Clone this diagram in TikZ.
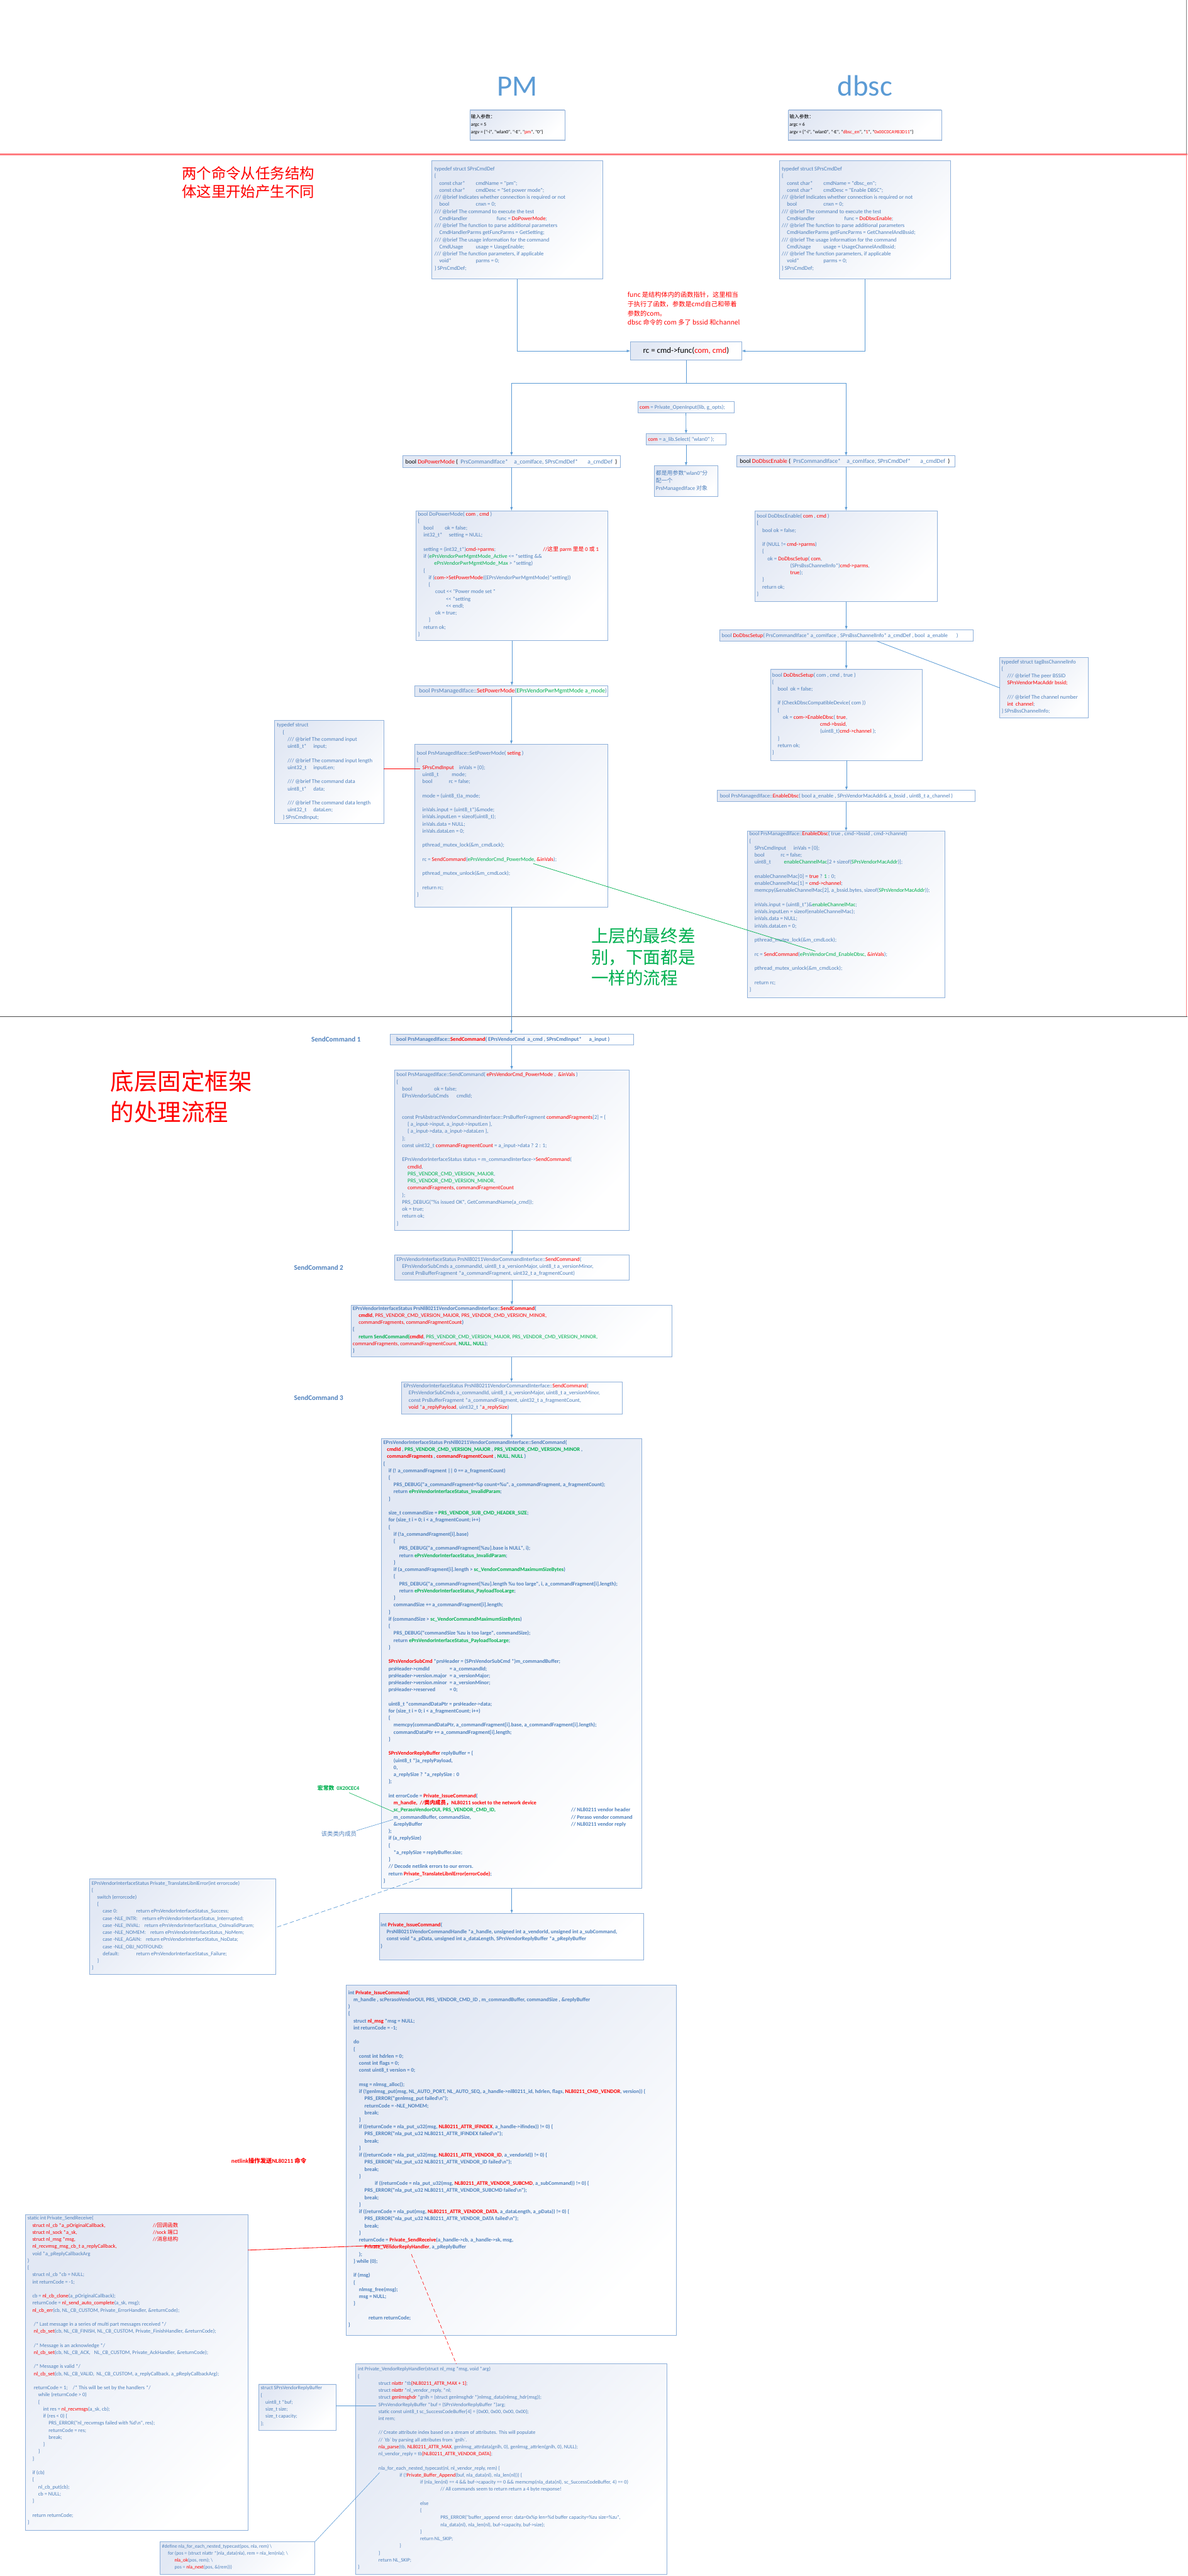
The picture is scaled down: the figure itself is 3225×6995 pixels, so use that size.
\documentclass[tikz,border=0pt]{standalone}
\usepackage{fontspec}
\setmainfont{Carlito}[Ligatures=TeXOff]
\newfontfamily\cjk{Noto Sans CJK SC}
\usetikzlibrary{arrows.meta}
\definecolor{cblue}{HTML}{4F81BD}
\definecolor{cred}{HTML}{FF0000}
\definecolor{cgreen}{HTML}{00B050}
\definecolor{lblue}{HTML}{5B9BD5}
\definecolor{bline}{HTML}{8EB0DA}
\definecolor{btop}{HTML}{E2E8F4}
\definecolor{sepred}{HTML}{FF7C80}
\definecolor{inbar}{HTML}{A7BFDE}
\newlength\pxl
\setlength\pxl{0.5pt}
\newcommand\hsp[1]{\hspace*{#1\pxl}}
\newcommand\cola[2]{\makebox[#1\pxl][l]{#2}}
\newcommand\rd[1]{\textcolor{cred}{#1}}
\newcommand\gr[1]{\textcolor{cgreen}{#1}}
\newcommand\zh[1]{{\cjk #1}}
\newcommand\codef{\fontsize{7.5}{9.6}\selectfont}
\newcommand\codeb{\fontsize{7.3}{9.6}\selectfont\bfseries}
\newcommand\hdf{\fontsize{8.2}{10}\selectfont}
\tikzset{
  box/.style={draw=bline, line width=0.8pt, top color=btop, bottom color=white, shading angle=45, inner sep=0pt, outer sep=0pt, rectangle},
  txt/.style={anchor=north west, inner sep=0pt, outer sep=0pt, align=left, text=cblue, font=\codef, execute at begin node=\strut},
  hd/.style={anchor=west, inner sep=0pt, outer sep=0pt, text=cblue, font=\hdf},
  arr/.style={draw=lblue, line width=0.7pt, -{Latex[length=5pt,width=3.6pt]}},
  ln/.style={draw=lblue, line width=0.7pt},
  big/.style={anchor=north west, inner sep=0pt, outer sep=0pt, align=left},
}
\newcommand\bx[6][]{\node[box,#1,minimum width={(#5-#3)*0.5pt},minimum height={(#6-#4)*0.5pt}] (#2) at ({(#3+#5)/2},{(#4+#6)/2}) {};}
\newcommand\tx[5][]{\node[txt,#1] (#2) at (#3,{#4-9.4}) {#5};}
\begin{document}
\begin{tikzpicture}[x=0.5pt,y=-0.5pt]
\useasboundingbox (0,0) rectangle (3225,6995);
\fill[white] (0,0) rectangle (3225,6995);
% ---------------- section lines
\draw[sepred, line width=2pt] (0,419) -- (3225,419);
\draw[black!50, line width=0.6pt] (3222,0) -- (3222,419);
\draw[sepred, line width=1pt] (3222,419) -- (3222,2760);
\draw[black!70, line width=0.6pt] (0,2760) -- (3225,2760);
% ---------------- titles
\node[anchor=base, inner sep=0pt, text=lblue, font=\fontsize{40}{40}\selectfont] (tPM) at (1405,260) {PM};
\node[anchor=base, inner sep=0pt, text=lblue, font=\fontsize{40}{40}\selectfont] (tDB) at (2349,260) {dbsc};
\bx{inPM}{1276}{299}{1534}{381}
\bx{inDB}{2141}{299}{2557}{381}
\draw[inbar, line width=2pt] (inPM.north west) -- (inPM.north east) (inPM.south west) -- (inPM.south east) (inDB.north west) -- (inDB.north east) (inDB.south west) -- (inDB.south east);
\tx[text=black, font=\fontsize{6.6}{10}\selectfont]{tinPM}{1279}{321}{\zh{输入参数：}\\argc = 5\\argv = \{"-i", "wlan0", "-E", "\rd{pm}", "0"\}}
\tx[text=black, font=\fontsize{6.6}{10}\selectfont]{tinDB}{2144}{321}{\zh{输入参数：}\\argc = 6\\argv = \{"-i", "wlan0", "-E", "\rd{dbsc\_en}", "\rd{1}", "\rd{0x00C0CA9B3D11}"\}}
\node[big, text=cred, font={\cjk\fontsize{20}{25.5}\selectfont}] (tDiff) at (494,451) {两个命令从任务结构\\体这里开始产生不同};
% ---------------- struct boxes
\bx{structPM}{1173}{437}{1637}{758}
\tx{tsPM}{1180}{463}{typedef struct SPrsCmdDef\\
\{\\
\hsp{13}\cola{99}{const char*}cmdName = "pm";\\
\hsp{13}\cola{99}{const char*}cmdDesc = "Set power mode";\\
/// @brief Indicates whether connection is required or not\\
\hsp{13}\cola{99}{bool}cnxn = 0;\\
/// @brief The command to execute the test\\
\hsp{13}\cola{156}{CmdHandler}func = \rd{DoPowerMode};\\
/// @brief The function to parse additional parameters\\
\hsp{13}CmdHandlerParms getFuncParms = GetSetting;\\
/// @brief The usage information for the command\\
\hsp{13}\cola{99}{CmdUsage}usage = UasgeEnable;\\
/// @brief The function parameters, if applicable\\
\hsp{13}\cola{99}{void*}parms = 0;\\
\} SPrsCmdDef;}
\bx{structDB}{2117}{437}{2582}{758}
\tx{tsDB}{2123}{463}{typedef struct SPrsCmdDef\\
\{\\
\hsp{14}\cola{99}{const char*}cmdName = "dbsc\_en";\\
\hsp{14}\cola{99}{const char*}cmdDesc = "Enable DBSC";\\
/// @brief Indicates whether connection is required or not\\
\hsp{14}\cola{99}{bool}cnxn = 0;\\
/// @brief The command to execute the test\\
\hsp{14}\cola{156}{CmdHandler}func = \rd{DoDbscEnable};\\
/// @brief The function to parse additional parameters\\
\hsp{14}CmdHandlerParms getFuncParms = GetChannelAndBssid;\\
/// @brief The usage information for the command\\
\hsp{14}\cola{99}{CmdUsage}usage = UsageChannelAndBssid;\\
/// @brief The function parameters, if applicable\\
\hsp{14}\cola{99}{void*}parms = 0;\\
\} SPrsCmdDef;}
% ---------------- rc
\node[big, text=cred, font={\cjk\fontsize{8.7}{12.5}\selectfont}] (tnote) at (1704,793) {func 是结构体内的函数指针，这里相当\\于执行了函数，参数是cmd自己和带着\\参数的com。\\dbsc 命令的 com 多了 bssid 和channel};
\bx{rc}{1712}{928}{2014}{978}
\node[inner sep=0pt, font=\fontsize{11}{13}\selectfont] (trc) at (rc.center) {rc = cmd->func(\rd{com, cmd})};
\draw[arr] (structPM.south) |- (rc.west);
\draw[arr] (structDB.south) |- (rc.east);
\bx{openIn}{1732}{1091}{1993}{1121}
\node[hd, font=\codef] (topen) at (1737,1106) {\rd{com} = Private\_OpenInput(lib, g\_opts);};
\bx{sel}{1755}{1178}{1971}{1208}
\node[hd, font=\codef] (tsel) at (1760,1193) {\rd{com} = a\_lib.Select( “wlan0” );};
\bx{noteCom}{1777}{1265}{1949}{1348}
\tx[font=\fontsize{7.6}{10.5}\selectfont]{tnoteCom}{1781}{1286}{\zh{都是用参数}”wlan0"\zh{分}\\\zh{配一个}\\PrsManagedIface \zh{对象}}
\draw[arr] (openIn.south) -- (sel.north);
\draw[arr] (sel.south) -- (noteCom.north);
% ---------------- headers
\bx{hdrPM}{1093}{1238}{1685}{1269}
\node[hd] (thPM) at (1101,1254) {\textcolor{black}{bool} \rd{DoPowerMode} \textcolor{black}{(}~ PrsCommandIface*\hsp{16}a\_comIface, SPrsCmdDef*\hsp{26}a\_cmdDef~ \textcolor{black}{)}};
\bx{hdrDB}{2001}{1238}{2594}{1268}
\node[hd] (thDB) at (2009,1253) {\textcolor{black}{bool} \rd{DoDbscEnable} \textcolor{black}{(}~ PrsCommandIface*\hsp{16}a\_comIface, SPrsCmdDef*\hsp{26}a\_cmdDef~ \textcolor{black}{)}};
\coordinate (sp) at (1863,1040);
\draw[ln] (rc.south) -- (sp);
\draw[ln] (sp -| hdrPM.north) -- (sp -| hdrDB.north);
\draw[arr] (sp -| hdrPM.north) -- (hdrPM.north);
\draw[arr] (sp -| hdrDB.north) -- (hdrDB.north);
% ---------------- PM chain
\bx{codePM}{1130}{1387}{1650}{1740}
\tx{tcPM}{1135}{1399}{bool DoPowerMode( \rd{com} , \rd{cmd} )\\
\{\\
\hsp{15}\cola{58}{bool}ok = false;\\
\hsp{15}\cola{69}{int32\_t*}setting = NULL;\\
~\\
\hsp{15}\cola{325}{setting = (int32\_t*)\rd{cmd->parms};}\rd{//\zh{这里} parm \zh{里是} 0 \zh{或} 1}\\
\hsp{15}if (\gr{ePrsVendorPwrMgmtMode\_Active} <= *setting \&\&\\
\hsp{44}\gr{ePrsVendorPwrMgmtMode\_Max} > *setting)\\
\hsp{15}\{\\
\hsp{29}if (\rd{com->SetPowerMode}((EPrsVendorPwrMgmtMode)*setting))\\
\hsp{29}\{\\
\hsp{47}cout << "Power mode set "\\
\hsp{76}<< *setting\\
\hsp{76}<< endl;\\
\hsp{47}ok = true;\\
\hsp{29}\}\\
\hsp{15}return ok;\\
\}}
\bx{hdrSPM}{1127}{1862}{1650}{1892}
\node[hd] (thSPM) at (1138,1877) {bool PrsManagedIface::\rd{SetPowerMode}(\gr{EPrsVendorPwrMgmtMode a\_mode})};
\bx{cmdInput}{746}{1957}{1042}{2237}
\tx{tcmdIn}{752}{1973}{typedef struct\\
\hsp{16}\{\\
\hsp{29}/// @brief The command input\\
\hsp{29}\cola{70}{uint8\_t*}input;\\
~\\
\hsp{29}/// @brief The command input length\\
\hsp{29}\cola{70}{uint32\_t}inputLen;\\
~\\
\hsp{29}/// @brief The command data\\
\hsp{29}\cola{70}{uint8\_t*}data;\\
~\\
\hsp{29}/// @brief The command data length\\
\hsp{29}\cola{70}{uint32\_t}dataLen;\\
\hsp{16}\} SPrsCmdInput;}
\bx{codeSPM}{1127}{2021}{1650}{2463}
\tx{tcSPM}{1132}{2049}{bool PrsManagedIface::SetPowerMode( \rd{seting} )\\
\{\\
\hsp{15}\rd{SPrsCmdInput}\hsp{14}inVals = \{0\};\\
\hsp{15}\cola{80}{uint8\_t}mode;\\
\hsp{15}\cola{72}{bool}rc = false;\\
~\\
\hsp{15}mode = (uint8\_t)a\_mode;\\
~\\
\hsp{15}inVals.input = (uint8\_t*)\&mode;\\
\hsp{15}inVals.inputLen = sizeof(uint8\_t);\\
\hsp{15}inVals.data = NULL;\\
\hsp{15}inVals.dataLen = 0;\\
~\\
\hsp{15}pthread\_mutex\_lock(\&m\_cmdLock);\\
~\\
\hsp{15}rc = \rd{SendCommand}(\gr{ePrsVendorCmd\_PowerMode,} \rd{\&inVals});\\
~\\
\hsp{15}pthread\_mutex\_unlock(\&m\_cmdLock);\\
~\\
\hsp{15}return rc;\\
\}}
\draw[arr] (hdrPM.south) -- (hdrPM.south |- codePM.north);
\draw[arr] (codePM.south) -- (codePM.south |- hdrSPM.north);
\draw[arr] (hdrSPM.south) -- (hdrSPM.south |- codeSPM.north);
\coordinate (ci1) at (1042,2087);
\coordinate (ci2) at (1140,2087);
\draw[cred, line width=0.7pt] (ci1) -- (ci2);
% ---------------- dbsc chain
\bx{codeDB}{2050}{1387}{2546}{1634}
\tx{tcDB}{2055}{1405}{bool DoDbscEnable( \rd{com} , \rd{cmd} )\\
\{\\
\hsp{15}bool ok = false;\\
~\\
\hsp{15}if (NULL != \rd{cmd->parms})\\
\hsp{15}\{\\
\hsp{29}ok = \rd{DoDbscSetup}( \rd{com},\\
\hsp{91}(SPrsBssChannelInfo*)\rd{cmd->parms},\\
\hsp{91}\rd{true});\\
\hsp{15}\}\\
\hsp{15}return ok;\\
\}}
\bx{hdrSetup}{1954}{1710}{2642}{1741}
\node[hd, font=\codef] (thSetup) at (1960,1726) {bool \rd{DoDbscSetup}( PrsCommandIface* a\_comIface , SPrsBssChannelInfo* a\_cmdDef , bool~ a\_enable \hsp{20})};
\bx{codeSetup}{2092}{1817}{2505}{2065}
\tx{tcSetup}{2097}{1836}{bool \rd{DoDbscSetup}( com , cmd , true )\\
\{\\
\hsp{15}bool~ ok = false;\\
~\\
\hsp{15}if (CheckDbscCompatibleDevice( com ))\\
\hsp{15}\{\\
\hsp{29}ok = \rd{com->EnableDbsc}( \rd{true},\\
\hsp{130}\rd{cmd->bssid},\\
\hsp{130}(uint8\_t)\rd{cmd->channel} );\\
\hsp{15}\}\\
\hsp{15}return ok;\\
\}}
\bx{bssInfo}{2715}{1785}{2955}{1950}
\tx{tbss}{2720}{1801}{typedef struct tagBssChannelInfo\\
\{\\
\hsp{15}/// @brief The peer BSSID\\
\hsp{15}\rd{SPrsVendorMacAddr bssid;}\\
~\\
\hsp{15}/// @brief The channel number\\
\hsp{15}\rd{int~ channel};\\
\} SPrsBssChannelInfo;}
\bx{hdrEDB}{1948}{2146}{2647}{2177}
\node[hd, font=\codef] (thEDB) at (1955,2162) {bool PrsManagedIface::\rd{EnableDbsc}( bool a\_enable , SPrsVendorMacAddr\& a\_bssid , uint8\_t a\_channel )};
\bx{codeEDB}{2030}{2257}{2566}{2710}
\tx{tcEDB}{2035}{2268}{bool PrsManagedIface::\rd{EnableDbsc}( true , cmd->bssid , cmd->channel)\\
\{\\
\hsp{14}\cola{106}{SPrsCmdInput}inVals = \{0\};\\
\hsp{14}\cola{71}{bool}rc = false;\\
\hsp{14}\cola{80}{uint8\_t}\gr{enableChannelMac}[2 + sizeof(\gr{SPrsVendorMacAddr})];\\
~\\
\hsp{14}enableChannelMac[0] = \rd{true} ? \gr{1} : 0;\\
\hsp{14}enableChannelMac[1] = \rd{cmd->channel};\\
\hsp{14}memcpy(\&enableChannelMac[2], a\_bssid.bytes, sizeof(\gr{SPrsVendorMacAddr}));\\
~\\
\hsp{14}inVals.input = (uint8\_t*)\&\gr{enableChannelMac};\\
\hsp{14}inVals.inputLen = sizeof(enableChannelMac);\\
\hsp{14}inVals.data = NULL;\\
\hsp{14}inVals.dataLen = 0;\\
~\\
\hsp{14}pthread\_mutex\_lock(\&m\_cmdLock);\\
~\\
\hsp{14}rc = \rd{SendCommand}(\gr{ePrsVendorCmd\_EnableDbsc,} \rd{\&inVals});\\
~\\
\hsp{14}pthread\_mutex\_unlock(\&m\_cmdLock);\\
~\\
\hsp{14}return rc;\\
\}}
\draw[arr] (hdrDB.south) -- (hdrDB.south |- codeDB.north);
\draw[arr] (codeDB.south) -- (codeDB.south |- hdrSetup.north);
\draw[arr] (hdrSetup.south) -- (hdrSetup.south |- codeSetup.north);
\draw[arr] (codeSetup.south) -- (codeSetup.south |- hdrEDB.north);
\draw[arr] (hdrEDB.south) -- (hdrEDB.south |- codeEDB.north);
\coordinate (bs1) at (2381,1741);
\coordinate (bs2) at (2715,1868);
\draw[ln] (bs1) -- (bs2);
% green link
\coordinate (g1) at (1448,2345);
\coordinate (g2) at (2214,2583);
\draw[cgreen, line width=0.6pt] (g1) -- (g2);
\node[big, text=cgreen, font={\cjk\fontsize{23.5}{28.5}\selectfont}] (tGreen) at (1606,2520) {上层的最终差\\别，下面都是\\一样的流程};
% ---------------- SendCommand section
\node[big, text=cred, font={\cjk\fontsize{32}{41.5}\selectfont}] (tBottom) at (300,2906) {底层固定框架\\的处理流程};
\node[anchor=west, inner sep=0pt, text=cblue, font=\fontsize{9.5}{11}\selectfont\bfseries] (lSC1) at (845,2823) {SendCommand 1};
\node[anchor=west, inner sep=0pt, text=cblue, font=\fontsize{9.5}{11}\selectfont\bfseries] (lSC2) at (798,3442) {SendCommand 2};
\node[anchor=west, inner sep=0pt, text=cblue, font=\fontsize{9.5}{11}\selectfont\bfseries] (lSC3) at (798,3796) {SendCommand 3};
\bx{hdrSC1}{1059}{2808}{1720}{2838}
\node[hd, font=\codef\bfseries] (thSC1) at (1076,2823) {bool PrsManagedIface::\rd{SendCommand}( EPrsVendorCmd~ a\_cmd , SPrsCmdInput*\hsp{20}a\_input )};
\bx{codeSC1}{1072}{2905}{1708}{3341}
\tx{tcSC1}{1077}{2922}{bool PrsManagedIface::SendCommand( \rd{ePrsVendorCmd\_PowerMode} ,~ \rd{\&inVals} )\\
\{\\
\hsp{15}\cola{87}{bool}ok = false;\\
\hsp{15}\cola{148}{EPrsVendorSubCmds}cmdId;\\
~\\
~\\
\hsp{15}const PrsAbstractVendorCommandInterface::PrsBufferFragment \rd{commandFragments}[2] = \{\\
\hsp{30}\{ a\_input->input, a\_input->inputLen \},\\
\hsp{30}\{ a\_input->data, a\_input->dataLen \},\\
\hsp{15}\};\\
\hsp{15}const uint32\_t \rd{commandFragmentCount} = a\_input->data ? 2 : 1;\\
~\\
\hsp{15}EPrsVendorInterfaceStatus status = m\_commandInterface->\rd{SendCommand}(\\
\hsp{30}\rd{cmdId},\\
\hsp{30}\gr{PRS\_VENDOR\_CMD\_VERSION\_MAJOR},\\
\hsp{30}\gr{PRS\_VENDOR\_CMD\_VERSION\_MINOR},\\
\hsp{30}\rd{commandFragments, commandFragmentCount}\\
\hsp{15});\\
\hsp{15}PRS\_DEBUG("\%s issued OK", GetCommandName(a\_cmd));\\
\hsp{15}ok = true;\\
\hsp{15}return ok;\\
\}}
\bx{sc2}{1072}{3408}{1708}{3476}
\tx{tsc2}{1077}{3423}{EPrsVendorInterfaceStatus PrsNl80211VendorCommandInterface::\rd{SendCommand}(\\
\hsp{15}EPrsVendorSubCmds a\_commandId, uint8\_t a\_versionMajor, uint8\_t a\_versionMinor,\\
\hsp{15}const PrsBufferFragment *a\_commandFragment, uint32\_t a\_fragmentCount)}
\bx{sc2b}{954}{3544}{1824}{3685}
\tx[font=\codeb]{tsc2b}{958}{3556}{EPrsVendorInterfaceStatus PrsNl80211VendorCommandInterface::\rd{SendCommand}(\\
\hsp{16}\rd{cmdId}\rd{\mdseries, PRS\_VENDOR\_CMD\_VERSION\_MAJOR, PRS\_VENDOR\_CMD\_VERSION\_MINOR,}\\
\hsp{16}\rd{\mdseries commandFragments, commandFragmentCount})\\
\{\\
\hsp{16}\gr{return SendCommand(}\rd{cmdId}, \gr{\mdseries PRS\_VENDOR\_CMD\_VERSION\_MAJOR, PRS\_VENDOR\_CMD\_VERSION\_MINOR,}\\
\rd{\mdseries commandFragments, commandFragmentCount}, \gr{NULL, NULL});\\
\}}
\bx{sc3}{1090}{3753}{1689}{3840}
\tx{tsc3}{1096}{3767}{EPrsVendorInterfaceStatus PrsNl80211VendorCommandInterface::\rd{SendCommand}(\\
\hsp{14}EPrsVendorSubCmds a\_commandId, uint8\_t a\_versionMajor, uint8\_t a\_versionMinor,\\
\hsp{14}const PrsBufferFragment *a\_commandFragment, uint32\_t a\_fragmentCount,\\
\hsp{14}\rd{void} *\rd{a\_replyPayload}, uint32\_t *\rd{a\_replySize})}
\bx{bigSC}{1036}{3906}{1743}{5128}
\tx[font=\codeb]{tbig}{1041}{3920}{EPrsVendorInterfaceStatus PrsNl80211VendorCommandInterface::SendCommand(\\
\hsp{10}\rd{cmdId} , \gr{PRS\_VENDOR\_CMD\_VERSION\_MAJOR} , \gr{PRS\_VENDOR\_CMD\_VERSION\_MINOR} ,\\
\hsp{10}\rd{commandFragments} , \rd{commandFragmentCount} , \gr{NULL}, \gr{NULL} )\\
\{\\
\hsp{14}if (! a\_commandFragment || 0 == a\_fragmentCount)\\
\hsp{14}\{\\
\hsp{28}PRS\_DEBUG("a\_commandFragment=\%p count=\%u", a\_commandFragment, a\_fragmentCount);\\
\hsp{28}return \gr{ePrsVendorInterfaceStatus\_InvalidParam};\\
\hsp{14}\}\\
~\\
\hsp{14}size\_t commandSize = \gr{PRS\_VENDOR\_SUB\_CMD\_HEADER\_SIZE};\\
\hsp{14}for (size\_t i = 0; i < a\_fragmentCount; i++)\\
\hsp{14}\{\\
\hsp{28}if (!a\_commandFragment[i].base)\\
\hsp{28}\{\\
\hsp{43}PRS\_DEBUG("a\_commandFragment[\%zu].base is NULL", i);\\
\hsp{43}return \gr{ePrsVendorInterfaceStatus\_InvalidParam};\\
\hsp{28}\}\\
\hsp{28}if (a\_commandFragment[i].length > \gr{sc\_VendorCommandMaximumSizeBytes})\\
\hsp{28}\{\\
\hsp{43}PRS\_DEBUG("a\_commandFragment[\%zu].length \%u too large", i, a\_commandFragment[i].length);\\
\hsp{43}return \gr{ePrsVendorInterfaceStatus\_PayloadTooLarge};\\
\hsp{28}\}\\
\hsp{28}commandSize += a\_commandFragment[i].length;\\
\hsp{14}\}\\
\hsp{14}if (commandSize > \gr{sc\_VendorCommandMaximumSizeBytes})\\
\hsp{14}\{\\
\hsp{28}PRS\_DEBUG("commandSize \%zu is too large", commandSize);\\
\hsp{28}return \gr{ePrsVendorInterfaceStatus\_PayloadTooLarge};\\
\hsp{14}\}\\
~\\
\hsp{14}\rd{SPrsVendorSubCmd} *prsHeader = (SPrsVendorSubCmd *)m\_commandBuffer;\\
\hsp{14}\cola{166}{prsHeader->cmdId}= a\_commandId;\\
\hsp{14}\cola{166}{prsHeader->version.major}= a\_versionMajor;\\
\hsp{14}\cola{166}{prsHeader->version.minor}= a\_versionMinor;\\
\hsp{14}\cola{166}{prsHeader->reserved}= 0;\\
~\\
\hsp{14}uint8\_t *commandDataPtr = prsHeader->data;\\
\hsp{14}for (size\_t i = 0; i < a\_fragmentCount; i++)\\
\hsp{14}\{\\
\hsp{28}memcpy(commandDataPtr, a\_commandFragment[i].base, a\_commandFragment[i].length);\\
\hsp{28}commandDataPtr += a\_commandFragment[i].length;\\
\hsp{14}\}\\
~\\
\hsp{14}\rd{SPrsVendorReplyBuffer} replyBuffer = \{\\
\hsp{28}(uint8\_t *)a\_replyPayload,\\
\hsp{28}0,\\
\hsp{28}a\_replySize ? *a\_replySize : 0\\
\hsp{14}\};\\
~\\
\hsp{14}int errorCode = \rd{Private\_IssueCommand}(\\
\hsp{28}\rd{m\_handle,~ //\zh{类内成员，}NL80211 socket to the network device}\\
\hsp{28}\cola{482}{\gr{sc\_PerasoVendorOUI, PRS\_VENDOR\_CMD\_ID,}}// NL80211 vendor header\\
\hsp{28}\cola{482}{m\_commandBuffer, commandSize,}// Peraso vendor command\\
\hsp{28}\cola{482}{\&replyBuffer}// NL80211 vendor reply\\
\hsp{14});\\
\hsp{14}if (a\_replySize)\\
\hsp{14}\{\\
\hsp{28}*a\_replySize = replyBuffer.size;\\
\hsp{14}\}\\
\hsp{14}// Decode netlink errors to our errors.\\
\hsp{14}return \rd{Private\_TranslateLibnlError(errorCode)};\\
\}}
\draw[arr] (hdrSC1.south) -- (hdrSC1.south |- codeSC1.north);
\draw[arr] (codeSC1.south) -- (codeSC1.south |- sc2.north);
\draw[arr] (sc2.south) -- (sc2.south |- sc2b.north);
\draw[arr] (sc2b.south) -- (sc2b.south |- sc3.north);
\draw[arr] (sc3.south) -- (sc3.south |- bigSC.north);
\draw[arr] (codeSPM.south) -- (codeSPM.south |- hdrSC1.north);
\node[anchor=west, inner sep=0pt, text=cgreen, font=\fontsize{7.5}{9}\selectfont\bfseries] (lMacro) at (862,4856) {\zh{宏常数}~ 0X20CEC4};
\node[anchor=west, inner sep=0pt, text=cblue, font={\cjk\fontsize{8}{9}\selectfont}] (lMember) at (872,4979) {该类类内成员};
\coordinate (m1) at (948,4868);
\coordinate (m2) at (1069,4920);
\draw[cgreen, line width=0.5pt] (m1) -- (m2);
\coordinate (m3) at (968,4971);
\coordinate (m4) at (1067,4941);
\draw[ln, line width=0.5pt] (m3) -- (m4);
% ---------------- translate
\bx{trans}{243}{5102}{749}{5362}
\tx[font=\fontsize{7.2}{9.6}\selectfont]{ttrans}{249}{5117}{EPrsVendorInterfaceStatus Private\_TranslateLibnlError(int errorcode)\\
\{\\
\hsp{15}switch (errorcode)\\
\hsp{15}\{\\
\hsp{30}\cola{91}{case 0:}return ePrsVendorInterfaceStatus\_Success;\\
\hsp{30}case -NLE\_INTR:\hsp{14}return ePrsVendorInterfaceStatus\_Interrupted;\\
\hsp{30}case -NLE\_INVAL:\hsp{12}return ePrsVendorInterfaceStatus\_OsInvalidParam;\\
\hsp{30}case -NLE\_NOMEM:\hsp{12}return ePrsVendorInterfaceStatus\_NoMem;\\
\hsp{30}case -NLE\_AGAIN:\hsp{12}return ePrsVendorInterfaceStatus\_NoData;\\
\hsp{30}case -NLE\_OBJ\_NOTFOUND:\\
\hsp{30}\cola{91}{default:}return ePrsVendorInterfaceStatus\_Failure;\\
\hsp{15}\}\\
\}}
\coordinate (tr1) at (1139,5102);
\coordinate (tr2) at (749,5234);
\draw[lblue, line width=0.6pt, dash pattern=on 6pt off 3pt] (tr1) -- (tr2);
% ---------------- issue command
\bx{issueDecl}{1031}{5196}{1748}{5322}
\tx[font=\codeb]{tissueDecl}{1034}{5230}{int \rd{Private\_IssueCommand}(\\
\hsp{16}PrsNl80211VendorCommandHandle *a\_handle, unsigned int a\_vendorId, unsigned int a\_subCommand,\\
\hsp{16}const void *a\_pData, unsigned int a\_dataLength, SPrsVendorReplyBuffer *a\_pReplyBuffer\\
)}
\draw[arr] (bigSC.south) -- (bigSC.south |- issueDecl.north);
\bx{issue}{940}{5391}{1837}{6341}
\tx[font=\codeb]{tissue}{946}{5414}{int \rd{Private\_IssueCommand}(\\
\hsp{14}m\_handle , scPerasoVendorOUI, PRS\_VENDOR\_CMD\_ID , m\_commandBuffer, commandSize , \&replyBuffer\\
)\\
\{\\
\hsp{14}struct \rd{nl\_msg} *msg = NULL;\\
\hsp{14}int returnCode = -1;\\
~\\
\hsp{14}do\\
\hsp{14}\{\\
\hsp{29}const int hdrlen = 0;\\
\hsp{29}const int flags = 0;\\
\hsp{29}const uint8\_t version = 0;\\
~\\
\hsp{29}msg = nlmsg\_alloc();\\
\hsp{29}if (!genlmsg\_put(msg, NL\_AUTO\_PORT, NL\_AUTO\_SEQ, a\_handle->nl80211\_id, hdrlen, flags, \rd{NL80211\_CMD\_VENDOR}, version)) \{\\
\hsp{44}PRS\_ERROR("genlmsg\_put failed\textbackslash n");\\
\hsp{44}returnCode = -NLE\_NOMEM;\\
\hsp{44}break;\\
\hsp{29}\}\\
\hsp{29}if ((returnCode = nla\_put\_u32(msg, \rd{NL80211\_ATTR\_IFINDEX}, a\_handle->ifindex)) != 0) \{\\
\hsp{44}PRS\_ERROR("nla\_put\_u32 NL80211\_ATTR\_IFINDEX failed\textbackslash n");\\
\hsp{44}break;\\
\hsp{29}\}\\
\hsp{29}if ((returnCode = nla\_put\_u32(msg, \rd{NL80211\_ATTR\_VENDOR\_ID}, a\_vendorId)) != 0) \{\\
\hsp{44}PRS\_ERROR("nla\_put\_u32 NL80211\_ATTR\_VENDOR\_ID failed\textbackslash n");\\
\hsp{44}break;\\
\hsp{29}\}\\
\hsp{72}if ((returnCode = nla\_put\_u32(msg, \rd{NL80211\_ATTR\_VENDOR\_SUBCMD}, a\_subCommand)) != 0) \{\\
\hsp{44}PRS\_ERROR("nla\_put\_u32 NL80211\_ATTR\_VENDOR\_SUBCMD failed\textbackslash n");\\
\hsp{44}break;\\
\hsp{29}\}\\
\hsp{29}if ((returnCode = nla\_put(msg, \rd{NL80211\_ATTR\_VENDOR\_DATA}, a\_dataLength, a\_pData)) != 0) \{\\
\hsp{44}PRS\_ERROR("nla\_put\_u32 NL80211\_ATTR\_VENDOR\_DATA failed\textbackslash n");\\
\hsp{44}break;\\
\hsp{29}\}\\
\hsp{29}returnCode = \rd{Private\_SendReceive}(a\_handle->cb, a\_handle->sk, msg,\\
\hsp{44}\rd{Private\_VendorReplyHandler}, a\_pReplyBuffer\\
\hsp{29});\\
\hsp{14}\} while (0);\\
~\\
\hsp{14}if (msg)\\
\hsp{14}\{\\
\hsp{29}nlmsg\_free(msg);\\
\hsp{29}msg = NULL;\\
\hsp{14}\}\\
~\\
\hsp{55}return returnCode;\\
\}}
\node[anchor=west, inner sep=0pt, text=cred, font=\fontsize{8}{9}\selectfont\bfseries] (lNet) at (628,5867) {netlink\zh{操作发送}NL80211 \zh{命令}};
% ---------------- send receive
\bx{sendRecv}{69}{6013}{673}{6871}
\tx[font=\fontsize{7.2}{9.6}\selectfont]{tsendRecv}{75}{6027}{static int Private\_SendReceive(\\
\hsp{13}\rd{\cola{327}{struct nl\_cb *a\_pOriginalCallback,}//\zh{回调函数}}\\
\hsp{13}\rd{\cola{327}{struct nl\_sock *a\_sk,}//sock \zh{端口}}\\
\hsp{13}\rd{\cola{327}{struct nl\_msg *msg,}//\zh{消息结构}}\\
\hsp{13}\rd{nl\_recvmsg\_msg\_cb\_t a\_replyCallback,}\\
\hsp{13}void *a\_pReplyCallbackArg\\
)\\
\{\\
\hsp{13}struct nl\_cb *cb = NULL;\\
\hsp{13}int returnCode = -1;\\
~\\
\hsp{13}cb = \rd{nl\_cb\_clone}(a\_pOriginalCallback);\\
\hsp{13}returnCode = \rd{nl\_send\_auto\_complete}(a\_sk, msg);\\
\hsp{13}\rd{nl\_cb\_err}(cb, NL\_CB\_CUSTOM, Private\_ErrorHandler, \&returnCode);\\
~\\
\hsp{17}/* Last message in a series of multi part messages received */\\
\hsp{17}\rd{nl\_cb\_set}(cb, NL\_CB\_FINISH, NL\_CB\_CUSTOM, Private\_FinishHandler, \&returnCode);\\
~\\
\hsp{17}/* Message is an acknowledge */\\
\hsp{17}\rd{nl\_cb\_set}(cb, NL\_CB\_ACK,\hsp{10}NL\_CB\_CUSTOM, Private\_AckHandler, \&returnCode);\\
~\\
\hsp{17}/* Message is valid */\\
\hsp{17}\rd{nl\_cb\_set}(cb, NL\_CB\_VALID,\hsp{6}NL\_CB\_CUSTOM, a\_replyCallback, a\_pReplyCallbackArg);\\
~\\
\hsp{17}returnCode = 1;\hsp{14}/* This will be set by the handlers */\\
\hsp{29}while (returnCode > 0)\\
\hsp{29}\{\\
\hsp{42}int res = \rd{nl\_recvmsgs}(a\_sk, cb);\\
\hsp{42}if (res < 0) \{\\
\hsp{57}PRS\_ERROR("nl\_recvmsgs failed with \%d\textbackslash n", res);\\
\hsp{57}returnCode = res;\\
\hsp{57}break;\\
\hsp{42}\}\\
\hsp{29}\}\\
\hsp{13}\}\\
~\\
\hsp{13}if (cb)\\
\hsp{13}\{\\
\hsp{29}nl\_cb\_put(cb);\\
\hsp{29}cb = NULL;\\
\hsp{13}\}\\
~\\
\hsp{13}return returnCode;\\
\}}
\coordinate (sr1) at (673,6110);
\coordinate (sr2) at (1063,6096);
\draw[cred, line width=0.7pt] (sr1) -- (sr2);
% ---------------- reply buffer & handler
\bx{replyBuf}{702}{6474}{912}{6600}
\tx[font=\fontsize{7}{9.6}\selectfont]{treplyBuf}{708}{6489}{struct SPrsVendorReplyBuffer\\
\{\\
\hsp{13}uint8\_t *buf;\\
\hsp{13}size\_t size;\\
\hsp{13}size\_t capacity;\\
\};}
\bx{handler}{966}{6419}{1811}{6990}
\tx[font=\fontsize{7}{9.6}\selectfont]{thandler}{972}{6437}{int Private\_VendorReplyHandler(struct nl\_msg *msg, void *arg)\\
\{\\
\hsp{56}struct \rd{nlattr} *tb\rd{[NL80211\_ATTR\_MAX + 1]};\\
\hsp{56}struct \rd{nlattr} *nl\_vendor\_reply, *nl;\\
\hsp{56}struct \rd{genlmsghdr} *gnlh = (struct genlmsghdr *)nlmsg\_data(nlmsg\_hdr(msg));\\
\hsp{56}SPrsVendorReplyBuffer *buf = (SPrsVendorReplyBuffer *)arg;\\
\hsp{56}static const uint8\_t sc\_SuccessCodeBuffer[4] = \{0x00, 0x00, 0x00, 0x00\};\\
\hsp{56}int rem;\\
~\\
\hsp{56}// Create attribute index based on a stream of attributes. This will populate\\
\hsp{56}// \textasciigrave tb\textasciigrave\ by parsing all attributes from \textasciigrave gnlh\textasciigrave .\\
\hsp{56}\rd{nla\_parse}(tb, \rd{NL80211\_ATTR\_MAX}, genlmsg\_attrdata(gnlh, 0), genlmsg\_attrlen(gnlh, 0), NULL);\\
\hsp{56}nl\_vendor\_reply = tb\rd{[NL80211\_ATTR\_VENDOR\_DATA]};\\
~\\
\hsp{56}nla\_for\_each\_nested\_typecast(nl, nl\_vendor\_reply, rem) \{\\
\hsp{113}if (!\rd{Private\_Buffer\_Append}(buf, nla\_data(nl), nla\_len(nl))) \{\\
\hsp{169}if (nla\_len(nl) == 4 \&\& buf->capacity == 0 \&\& memcmp(nla\_data(nl), sc\_SuccessCodeBuffer, 4) == 0)\\
\hsp{224}// All commands seem to return return a 4 byte response!\\
~\\
\hsp{169}else\\
\hsp{169}\{\\
\hsp{224}PRS\_ERROR("buffer\_append error: data=0x\%p len=\%d buffer capacity=\%zu size=\%zu",\\
\hsp{224}nla\_data(nl), nla\_len(nl), buf->capacity, buf->size);\\
\hsp{169}\}\\
\hsp{169}return NL\_SKIP;\\
\hsp{113}\}\\
\hsp{56}\}\\
\hsp{56}return NL\_SKIP;\\
\}}
\coordinate (rb1) at (912,6533);
\coordinate (rb2) at (1022,6533);
\draw[ln, line width=1pt] (rb1) -- (rb2);
\coordinate (vr1) at (1117,6121);
\coordinate (vr2) at (1239,6419);
\draw[cred, line width=0.5pt, dash pattern=on 5pt off 3pt] (vr1) -- (vr2);
\bx{define}{435}{6902}{855}{6990}
\tx[font=\fontsize{6.7}{9.6}\selectfont]{tdefine}{440}{6918}{\#define nla\_for\_each\_nested\_typecast(pos, nla, rem) \textbackslash\\
\hsp{16}for (pos = (struct nlattr *)nla\_data(nla), rem = nla\_len(nla); \textbackslash\\
\hsp{34}\rd{nla\_ok}(pos, rem); \textbackslash\\
\hsp{34}pos = \rd{nla\_next}(pos, \&(rem)))}
\coordinate (df1) at (855,6902);
\coordinate (df2) at (1031,6714);
\draw[ln, line width=0.5pt] (df1) -- (df2);
\end{tikzpicture}
\end{document}
